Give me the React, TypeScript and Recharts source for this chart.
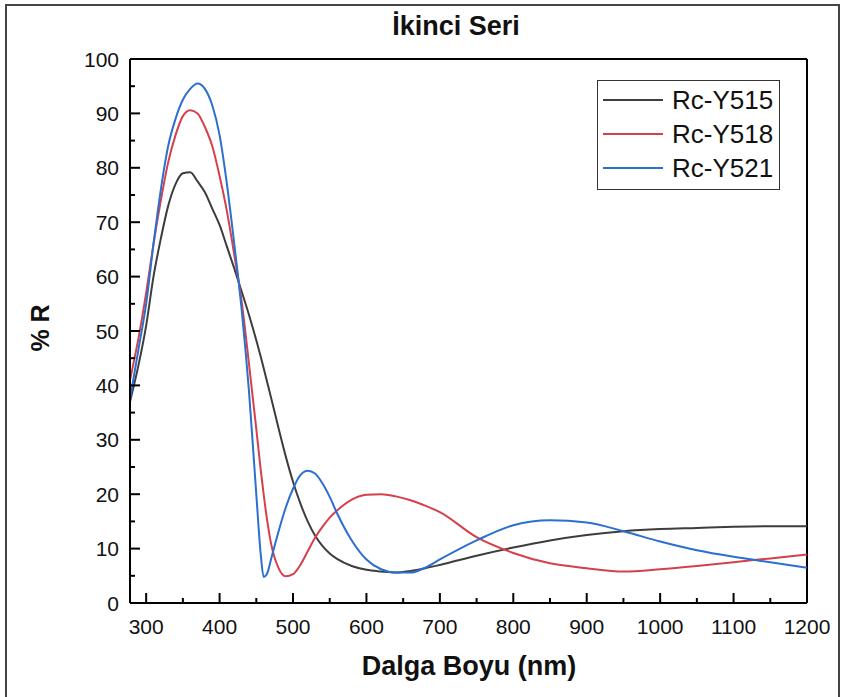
import React from "react";
import { LineChart, Line, XAxis, YAxis, ReferenceLine, Legend } from "recharts";

// wavelength grid (nm)
const WAVELENGTH = [
  278, 290, 300, 310, 320, 330, 340, 350, 360, 370, 380, 390, 400, 410, 420, 430,
  440, 450, 456, 460, 465, 470, 480, 490, 500, 510, 520, 530, 540, 550, 560, 580,
  600, 620, 640, 660, 680, 700, 750, 800, 850, 900, 950, 1000, 1050, 1100, 1150, 1200,
];

const RC_Y515 = [
  37, 44, 51, 60, 67, 73, 77, 79, 79.2, 77.5, 75.5, 72.5, 69.5, 65.5, 61.5, 57.3,
  53, 48.3, 45.3, 43.2, 40.5, 37.8, 32.3, 27, 22.3, 18.3, 15, 12.4, 10.5, 9.1, 8.1, 6.8,
  6.1, 5.8, 5.6, 5.9, 6.4, 7, 8.7, 10.2, 11.5, 12.5, 13.2, 13.6, 13.8, 14, 14.1, 14.1,
];

const RC_Y518 = [
  41, 49, 57, 66, 74, 81, 86, 89.5, 90.6, 90, 87.5, 84, 78.5, 72, 64, 55.5,
  44, 32, 24.5, 20, 15, 11, 6.5, 4.9, 5.3, 7, 9.5, 12, 14, 15.7, 17, 19,
  19.9, 20, 19.6, 18.9, 17.9, 16.7, 12.1, 9.2, 7.3, 6.4, 5.8, 6.2, 6.8, 7.5, 8.2, 8.9,
];

const RC_Y521 = [
  37.5, 47, 55, 66, 76, 84, 89, 92.5, 94.5, 95.5, 94.5, 91.5, 86, 77, 66, 54,
  39, 20, 9, 4.8, 5.5, 8, 13, 17.5, 21, 23.5, 24.3, 23.8, 22, 19.5, 16.5, 11.5,
  8, 6.2, 5.6, 5.6, 6.5, 8, 11.5, 14.3, 15.2, 14.8, 13.2, 11.3, 9.7, 8.5, 7.5, 6.5,
];

const X_TICKS = [300, 350, 400, 450, 500, 550, 600, 650, 700, 750, 800, 850, 900, 950, 1000, 1050, 1100, 1150, 1200];
const Y_TICKS = [0, 5, 10, 15, 20, 25, 30, 35, 40, 45, 50, 55, 60, 65, 70, 75, 80, 85, 90, 95, 100];

const SERIES = [
  { key: "y515", name: "Rc-Y515", color: "#3d3d3d" },
  { key: "y518", name: "Rc-Y518", color: "#d6404a" },
  { key: "y521", name: "Rc-Y521", color: "#2b6fcf" },
];

const data = WAVELENGTH.map((wl, i) => ({
  wl,
  y515: RC_Y515[i],
  y518: RC_Y518[i],
  y521: RC_Y521[i],
}));

const FONT = "'Liberation Sans', Arial, sans-serif";

function XTick(props: any) {
  const { x, y, payload } = props;
  const major = payload.value % 100 === 0;
  return (
    <g>
      <line x1={x} x2={x} y1={y} y2={y - (major ? 10 : 5)} stroke="#000" strokeWidth={2} />
      {major && (
        <text x={x} y={y + 31} textAnchor="middle" fontSize={21} fontFamily={FONT} fill="#111">
          {payload.value}
        </text>
      )}
    </g>
  );
}

function YTick(props: any) {
  const { x, y, payload } = props;
  const major = payload.value % 10 === 0;
  return (
    <g>
      <line x1={x} x2={x + (major ? 10 : 5)} y1={y} y2={y} stroke="#000" strokeWidth={2} />
      {major && (
        <text x={x - 11} y={y} dy="0.36em" textAnchor="end" fontSize={21} fontFamily={FONT} fill="#111">
          {payload.value}
        </text>
      )}
    </g>
  );
}

function LegendBox() {
  return (
    <div
      style={{
        border: "1px solid #333",
        background: "#fff",
        width: 183,
        padding: "2px 0 4px 0",
        fontFamily: FONT,
        fontSize: 26,
        color: "#111",
        boxSizing: "border-box",
      }}
    >
      {SERIES.map((s) => (
        <div key={s.key} style={{ display: "flex", alignItems: "center", height: 34, whiteSpace: "nowrap" }}>
          <div style={{ width: 60, height: 2, background: s.color, marginLeft: 5, marginRight: 9 }} />
          <span>{s.name}</span>
        </div>
      ))}
    </div>
  );
}

export default function App() {
  return (
    <div style={{ position: "absolute", left: 0, top: 0, width: 844, height: 697, background: "#fff", overflow: "hidden" }}>
      <div
        style={{
          position: "absolute",
          left: 5,
          top: 4,
          width: 831,
          height: 720,
          border: "2px solid #444",
        }}
      />
      <div
        style={{
          position: "absolute",
          left: 0,
          top: 11,
          width: 912,
          textAlign: "center",
          fontFamily: FONT,
          fontWeight: "bold",
          fontSize: 27,
          color: "#111",
        }}
      >
        İkinci Seri
      </div>
      <div
        style={{
          position: "absolute",
          left: 40,
          top: 328,
          transform: "translate(-50%, -50%) rotate(-90deg)",
          fontFamily: FONT,
          fontWeight: "bold",
          fontSize: 25,
          color: "#111",
          whiteSpace: "nowrap",
        }}
      >
        % R
      </div>
      <div
        style={{
          position: "absolute",
          left: 0,
          top: 651,
          width: 938,
          textAlign: "center",
          fontFamily: FONT,
          fontWeight: "bold",
          fontSize: 27,
          color: "#111",
        }}
      >
        Dalga Boyu (nm)
      </div>
      <div style={{ position: "absolute", left: 0, top: 0 }}>
        <LineChart width={844} height={697} data={data} margin={{ top: 59, right: 37, left: 129, bottom: 93 }}>
          <XAxis
            dataKey="wl"
            type="number"
            domain={[278, 1200]}
            allowDataOverflow
            ticks={X_TICKS}
            interval={0}
            height={1}
            tickSize={0}
            tickMargin={0}
            tickLine={false}
            axisLine={{ stroke: "#000", strokeWidth: 2 }}
            tick={<XTick />}
          />
          <YAxis
            type="number"
            domain={[0, 100]}
            ticks={Y_TICKS}
            interval={0}
            width={1}
            tickSize={0}
            tickMargin={0}
            tickLine={false}
            axisLine={{ stroke: "#000", strokeWidth: 2 }}
            tick={<YTick />}
          />
          <ReferenceLine y={100} stroke="#000" strokeWidth={2} />
          <ReferenceLine x={1200} stroke="#000" strokeWidth={2} />
          {SERIES.map((s) => (
            <Line
              key={s.key}
              type="monotone"
              dataKey={s.key}
              name={s.name}
              stroke={s.color}
              strokeWidth={2}
              dot={false}
              isAnimationActive={false}
            />
          ))}
          <Legend
            layout="vertical"
            align="center"
            verticalAlign="middle"
            wrapperStyle={{ left: 597, top: 80, width: 185 }}
            content={() => <LegendBox />}
          />
        </LineChart>
      </div>
    </div>
  );
}
